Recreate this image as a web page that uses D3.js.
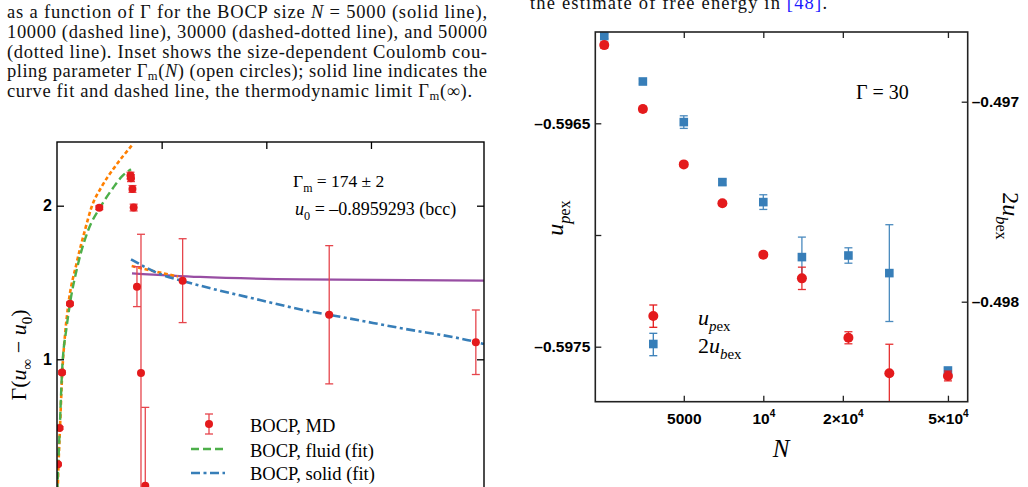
<!DOCTYPE html>
<html>
<head>
<meta charset="utf-8">
<script src="https://cdn.jsdelivr.net/npm/d3@7"></script>
<style>
  body { margin: 0; background: #fff; }
  svg { display: block; }
</style>
</head>
<body>
<svg id="fig" width="1028" height="487"></svg>
<script>
// ---- left panel: Gamma(u_inf - u0) vs Gamma ----
const gammaMD  = [1.9, 4.8, 9.6, 24.8, 80.8, 140.4, 141.4, 144.2, 146.5, 152.8, 160.5, 168.7, 240.1, 520.2, 800.4];
const energyMD = [0.316, 0.553, 0.914, 1.362, 1.987, 2.196, 2.179, 2.109, 1.988, 1.473, 0.911, 0.177, 1.512, 1.290, 1.111];
const errorMD  = [0.008, 0.008, 0.01, 0.01, 0.012, 0.022, 0.022, 0.022, 0.022, 0.13, 0.903, 0.51, 0.273, 0.45, 0.21];

const fluidGamma = [0.4, 1.0, 2.5, 5.3, 9.6, 18.5, 24.8, 40.7, 59.8, 82.1, 107.0, 123.6, 141.4];
const fluidFit   = [0.06, 0.169, 0.318, 0.553, 0.917, 1.212, 1.362, 1.627, 1.842, 1.987, 2.115, 2.189, 2.237];

const orangeGamma = [0.6, 1.5, 2.9, 5.7, 10.1, 15.3, 21.0, 37.6, 53.5, 66.3, 85.4, 110.8, 142.7];
const orangeFit   = [0.06, 0.169, 0.318, 0.553, 0.917, 1.158, 1.340, 1.627, 1.842, 1.993, 2.124, 2.254, 2.391];
const orange2Gamma = [142.7, 187.2, 231.1];
const orange2Fit   = [1.607, 1.572, 1.539];

const solidGamma = [141.4, 196.8, 240.1, 311.4, 387.8, 483.3, 519.6, 655.2, 800.4, 815.7];
const solidFit   = [1.651, 1.555, 1.510, 1.447, 1.386, 1.312, 1.290, 1.204, 1.113, 1.100];

const purpleGamma = [143.3, 273.2, 464.2, 815.7];
const purpleFit   = [1.560, 1.536, 1.520, 1.512];

const leftTicksY = [1, 2];
const leftTicksX = [200, 400, 600];
const legendLeft = ["BOCP, MD", "BOCP, fluid (fit)", "BOCP, solid (fit)"];

// ---- right panel: u_pex and 2u_bex vs N ----
const sizesN   = [2500, 3500, 5000, 7000, 10000, 14000, 21000, 30000, 50000];
const uPex     = [-0.596150, -0.596436, -0.596684, -0.596858, -0.597088, -0.597194, -0.597460, -0.597619, -0.597631];
const uPexErr  = [0.000014, 0.000012, 0.000010, 0.000010, 0.000010, 0.00005, 0.000027, 0.00013, 0.000022];
const uBex2    = [-0.496672, -0.496899, -0.497102, -0.497402, -0.497502, -0.497777, -0.497769, -0.497857, -0.498344];
const uBex2Err = [0.000012, 0.000012, 0.0000315, 0.000015, 0.0000367, 0.0001, 0.0000385, 0.000242, 0.000012];

const rightTicksX = [5000, 10000, 20000, 50000];
const rightTicksXLabels = [["5000", ""], ["10", "4"], ["2\u00d710", "4"], ["5\u00d710", "4"]];
const rightTicksYL = [-0.5975, -0.597, -0.5965];
const rightTicksYLLabels = ["\u20130.5975", "", "\u20130.5965"];
const rightTicksYR = [-0.498, -0.497];
const rightTicksYRLabels = ["\u20130.498", "\u20130.497"];

const RED = "#e41a1c", BLUE = "#377eb8", GREEN = "#4daf4a", ORANGE = "#ff7f00", PURPLE = "#984ea3";
const SERIF = "'Liberation Serif', 'Times New Roman', serif";
const SANS = "'Liberation Sans', Arial, sans-serif";

const svg = d3.select("#fig");
svg.append("rect").attr("width", 1028).attr("height", 487).attr("fill", "#fff");

// rich text helper: parts = [{t, i, sub, sup, fill}]
function rich(sel, parts, size, subK = 0.28) {
  let shift = 0;
  parts.forEach(p => {
    const sp = sel.append("tspan").text(p.t);
    let target = 0;
    if (p.sub) { target = size * subK; sp.attr("font-size", size * 0.68); }
    if (p.sup) { target = -size * 0.42; sp.attr("font-size", size * 0.65); }
    if (p.i) sp.attr("font-style", "italic");
    if (p.fill) sp.attr("fill", p.fill);
    if (target !== shift) { sp.attr("dy", target - shift); shift = target; }
  });
  return sel;
}

// ---- caption text ----
const capLines = [
  [{t: "as a function of \u0393 for the BOCP size "}, {t: "N", i: true}, {t: " = 5000 (solid line),"}],
  [{t: "10000 (dashed line), 30000 (dashed-dotted line), and 50000"}],
  [{t: "(dotted line).  Inset shows the size-dependent Coulomb cou-"}],
  [{t: "pling parameter \u0393"}, {t: "m", sub: true}, {t: "("}, {t: "N", i: true}, {t: ") (open circles); solid line indicates the"}],
  [{t: "curve fit and dashed line, the thermodynamic limit \u0393"}, {t: "m", sub: true}, {t: "(\u221e)."}]
];
const capBase = [18.3, 38, 57.5, 77, 96.7];
capLines.forEach((parts, k) => {
  const t = svg.append("text").attr("x", 7).attr("y", capBase[k])
    .attr("font-family", SERIF).attr("font-size", 18.5).attr("fill", "#111");
  rich(t, parts, 18.5, 0.16);
  t.attr("textLength", k < 4 ? 480 : 465).attr("lengthAdjust", "spacing");
});
const rc = svg.append("text").attr("x", 530).attr("y", 9)
  .attr("font-family", SERIF).attr("font-size", 18.5).attr("fill", "#111");
rich(rc, [{t: "the estimate of free energy in "}, {t: "[48]", fill: "#1a1aff"}, {t: "."}], 18.5);
rc.attr("textLength", 297).attr("lengthAdjust", "spacing");

// ================= LEFT PANEL =================
const xL = d3.scaleLinear().domain([0, 816]).range([57, 484]);
const yL = d3.scaleLinear().domain([1, 2]).range([359.3, 205.7]);

svg.append("clipPath").attr("id", "clipL")
  .append("rect").attr("x", 57).attr("y", 142).attr("width", 427).attr("height", 400);

const gL = svg.append("g");
const plotL = gL.append("g").attr("clip-path", "url(#clipL)");

const lineL = (xs, ys) => d3.line().curve(d3.curveMonotoneX)
  .x((d, i) => xL(xs[i])).y((d, i) => yL(ys[i]))(xs);

plotL.append("path").attr("d", lineL(orangeGamma, orangeFit))
  .attr("fill", "none").attr("stroke", ORANGE).attr("stroke-width", 2.6).attr("stroke-dasharray", "4,2.6");
plotL.append("path").attr("d", lineL(fluidGamma, fluidFit))
  .attr("fill", "none").attr("stroke", GREEN).attr("stroke-width", 2.4).attr("stroke-dasharray", "8,4");
plotL.append("path").attr("d", lineL(purpleGamma, purpleFit))
  .attr("fill", "none").attr("stroke", PURPLE).attr("stroke-width", 2.2);
plotL.append("path").attr("d", lineL(orange2Gamma, orange2Fit))
  .attr("fill", "none").attr("stroke", ORANGE).attr("stroke-width", 2.6).attr("stroke-dasharray", "4,2.6");
plotL.append("path").attr("d", lineL(solidGamma, solidFit))
  .attr("fill", "none").attr("stroke", BLUE).attr("stroke-width", 2.6).attr("stroke-dasharray", "9,3.5,3,3.5");

// MD points with error bars
const md = gammaMD.map((g, i) => ({g, v: energyMD[i], e: errorMD[i]}));
const eb = plotL.selectAll(".ebL").data(md).enter().append("g").attr("class", "ebL")
  .attr("stroke", "#e6454c").attr("stroke-width", 1.3);
eb.append("line").attr("x1", d => xL(d.g)).attr("x2", d => xL(d.g))
  .attr("y1", d => yL(d.v + d.e)).attr("y2", d => yL(d.v - d.e));
eb.append("line").attr("x1", d => xL(d.g) - 4).attr("x2", d => xL(d.g) + 4)
  .attr("y1", d => yL(d.v + d.e)).attr("y2", d => yL(d.v + d.e));
eb.append("line").attr("x1", d => xL(d.g) - 4).attr("x2", d => xL(d.g) + 4)
  .attr("y1", d => yL(d.v - d.e)).attr("y2", d => yL(d.v - d.e));
plotL.selectAll(".ptL").data(md).enter().append("circle").attr("class", "ptL")
  .attr("cx", d => xL(d.g)).attr("cy", d => yL(d.v)).attr("r", 4).attr("fill", RED);

// frame + axes
gL.append("rect").attr("x", 57).attr("y", 142).attr("width", 427).attr("height", 400)
  .attr("fill", "none").attr("stroke", "#000").attr("stroke-width", 1.4);

const axL = gL.append("g").attr("transform", "translate(57,0)")
  .call(d3.axisLeft(yL).tickValues(leftTicksY).tickSize(-7).tickPadding(5).tickFormat(d3.format("d")));
const axLR = gL.append("g").attr("transform", "translate(484,0)")
  .call(d3.axisRight(yL).tickValues(leftTicksY).tickSize(-7).tickFormat(""));
const axLT = gL.append("g").attr("transform", "translate(0,142)")
  .call(d3.axisTop(xL).tickValues(leftTicksX).tickSize(-7).tickFormat(""));
[axL, axLR, axLT].forEach(a => {
  a.select(".domain").remove();
  a.selectAll(".tick line").attr("stroke", "#000").attr("stroke-width", 1.3);
  a.selectAll("text").attr("font-family", SANS).attr("font-weight", "bold").attr("font-size", 16).attr("fill", "#000");
});

// y label
const ylab = gL.append("text").attr("transform", "translate(26,355) rotate(-90)")
  .attr("text-anchor", "middle").attr("font-family", SERIF).attr("font-size", 22).attr("fill", "#000");
rich(ylab, [{t: "\u0393("}, {t: "u", i: true}, {t: "\u221e", sub: true}, {t: " \u2212 "}, {t: "u", i: true}, {t: "0", sub: true}, {t: ")"}], 22);

// annotations
rich(gL.append("text").attr("x", 293).attr("y", 187).attr("font-family", SERIF).attr("font-size", 17.5),
  [{t: "\u0393"}, {t: "m", sub: true}, {t: " = 174 \u00b1 2"}], 17.5);
rich(gL.append("text").attr("x", 295).attr("y", 215).attr("font-family", SERIF).attr("font-size", 18),
  [{t: "u", i: true}, {t: "0", sub: true}, {t: " = \u20130.8959293 (bcc)"}], 18);

// legend
const lg = gL.append("g");
lg.append("line").attr("x1", 209).attr("x2", 209).attr("y1", 414).attr("y2", 434).attr("stroke", "#e6454c").attr("stroke-width", 1.3);
lg.append("line").attr("x1", 205).attr("x2", 213).attr("y1", 414).attr("y2", 414).attr("stroke", "#e6454c").attr("stroke-width", 1.3);
lg.append("line").attr("x1", 205).attr("x2", 213).attr("y1", 434).attr("y2", 434).attr("stroke", "#e6454c").attr("stroke-width", 1.3);
lg.append("circle").attr("cx", 209).attr("cy", 424).attr("r", 4).attr("fill", RED);
lg.append("line").attr("x1", 191).attr("x2", 227).attr("y1", 449).attr("y2", 449)
  .attr("stroke", GREEN).attr("stroke-width", 2.4).attr("stroke-dasharray", "8,4");
lg.append("line").attr("x1", 191).attr("x2", 225).attr("y1", 473).attr("y2", 473)
  .attr("stroke", BLUE).attr("stroke-width", 2.6).attr("stroke-dasharray", "9,3.5,3,3.5");
lg.selectAll(".lt").data(legendLeft).enter().append("text").attr("class", "lt")
  .attr("x", 250).attr("y", (d, i) => [432, 457, 480][i])
  .attr("font-family", SERIF).attr("font-size", 18.5).attr("fill", "#000").text(d => d);

// ================= RIGHT PANEL =================
const xR = d3.scaleLog().domain([2312, 59400]).range([595.3, 967.7]);
const yRL = d3.scaleLinear().domain([-0.5975, -0.5965]).range([346.7, 123.3]);
const yRR = d3.scaleLinear().domain([-0.498, -0.497]).range([301.7, 101.7]);

const gR = svg.append("g");

function errBars(data, yS, color) {
  const g = gR.append("g").attr("stroke", color).attr("stroke-width", 1.3).attr("opacity", 0.9);
  const s = g.selectAll("g").data(data).enter().append("g");
  s.append("line").attr("x1", d => xR(d.n)).attr("x2", d => xR(d.n))
    .attr("y1", d => Math.max(32, yS(d.v + d.e))).attr("y2", d => Math.min(401.7, yS(d.v - d.e)));
  s.filter(d => yS(d.v + d.e) > 32).append("line").attr("x1", d => xR(d.n) - 4).attr("x2", d => xR(d.n) + 4)
    .attr("y1", d => yS(d.v + d.e)).attr("y2", d => yS(d.v + d.e));
  s.filter(d => yS(d.v - d.e) < 401.7).append("line").attr("x1", d => xR(d.n) - 4).attr("x2", d => xR(d.n) + 4)
    .attr("y1", d => yS(d.v - d.e)).attr("y2", d => yS(d.v - d.e));
}
const redData = sizesN.map((n, i) => ({n, v: uPex[i], e: uPexErr[i]}));
const blueData = sizesN.map((n, i) => ({n, v: uBex2[i], e: uBex2Err[i]}));

errBars(blueData, yRR, BLUE);
gR.selectAll(".sq").data(blueData).enter().append("rect").attr("class", "sq")
  .attr("x", d => xR(d.n) - 4.3).attr("y", d => yRR(d.v) - 4.3).attr("width", 8.6).attr("height", 8.6).attr("fill", BLUE);
errBars(redData, yRL, RED);
gR.selectAll(".ci").data(redData).enter().append("circle").attr("class", "ci")
  .attr("cx", d => xR(d.n)).attr("cy", d => yRL(d.v)).attr("r", 5).attr("fill", RED);

gR.append("rect").attr("x", 595.3).attr("y", 32).attr("width", 372.4).attr("height", 369.7)
  .attr("fill", "none").attr("stroke", "#222").attr("stroke-width", 1.6);

const axRL = gR.append("g").attr("transform", "translate(595.3,0)")
  .call(d3.axisLeft(yRL).tickValues(rightTicksYL).tickSize(-6).tickPadding(5)
    .tickFormat((d, i) => rightTicksYLLabels[i]));
const axRR = gR.append("g").attr("transform", "translate(967.7,0)")
  .call(d3.axisRight(yRR).tickValues(rightTicksYR).tickSize(-6).tickPadding(4)
    .tickFormat((d, i) => rightTicksYRLabels[i]));
const axRT = gR.append("g").attr("transform", "translate(0,32)")
  .call(d3.axisTop(xR).tickValues(rightTicksX).tickSize(-6).tickFormat(""));
const axRB = gR.append("g").attr("transform", "translate(0,401.7)")
  .call(d3.axisBottom(xR).tickValues(rightTicksX).tickSize(-6).tickPadding(11).tickFormat(""));
axRB.selectAll(".tick text").each(function(d, i) {
  const lab = rightTicksXLabels[i];
  const t = d3.select(this);
  t.append("tspan").text(lab[0]);
  if (lab[1]) t.append("tspan").text(lab[1]).attr("font-size", 10).attr("dy", -7);
});
[axRL, axRR, axRT, axRB].forEach(a => {
  a.select(".domain").remove();
  a.selectAll(".tick line").attr("stroke", "#222").attr("stroke-width", 1.3);
  a.selectAll("text").attr("font-family", SANS).attr("font-weight", "bold").attr("font-size", 15.5).attr("fill", "#000");
});

// axis titles
rich(gR.append("text").attr("transform", "translate(563,218) rotate(-90)").attr("text-anchor", "middle")
  .attr("font-family", SERIF).attr("font-size", 24),
  [{t: "u", i: true}, {t: "p", i: true, sub: true}, {t: "ex", sub: true}], 24);
rich(gR.append("text").attr("transform", "translate(1003,216) rotate(90)").attr("text-anchor", "middle")
  .attr("font-family", SERIF).attr("font-size", 24),
  [{t: "2"}, {t: "u", i: true}, {t: "b", i: true, sub: true}, {t: "ex", sub: true}], 24);
gR.append("text").attr("x", 781).attr("y", 457).attr("text-anchor", "middle")
  .attr("font-family", SERIF).attr("font-style", "italic").attr("font-size", 25).text("N");
gR.append("text").attr("x", 856).attr("y", 99.3).attr("font-family", SERIF).attr("font-size", 20).text("\u0393 = 30");

// right legend
const lr = gR.append("g");
[[316, 305, 327.3, RED], [344, 333.3, 355.7, BLUE]].forEach(([cy, y1, y2, c]) => {
  lr.append("line").attr("x1", 653.3).attr("x2", 653.3).attr("y1", y1).attr("y2", y2).attr("stroke", c).attr("stroke-width", 1.3);
  lr.append("line").attr("x1", 649.3).attr("x2", 657.3).attr("y1", y1).attr("y2", y1).attr("stroke", c).attr("stroke-width", 1.3);
  lr.append("line").attr("x1", 649.3).attr("x2", 657.3).attr("y1", y2).attr("y2", y2).attr("stroke", c).attr("stroke-width", 1.3);
});
lr.append("circle").attr("cx", 653.3).attr("cy", 316).attr("r", 5).attr("fill", RED);
lr.append("rect").attr("x", 649).attr("y", 339.7).attr("width", 8.6).attr("height", 8.6).attr("fill", BLUE);
rich(lr.append("text").attr("x", 698).attr("y", 325).attr("font-family", SERIF).attr("font-size", 22),
  [{t: "u", i: true}, {t: "p", i: true, sub: true}, {t: "ex", sub: true}], 22);
rich(lr.append("text").attr("x", 698).attr("y", 353.3).attr("font-family", SERIF).attr("font-size", 22),
  [{t: "2"}, {t: "u", i: true}, {t: "b", i: true, sub: true}, {t: "ex", sub: true}], 22);
</script>
</body>
</html>
